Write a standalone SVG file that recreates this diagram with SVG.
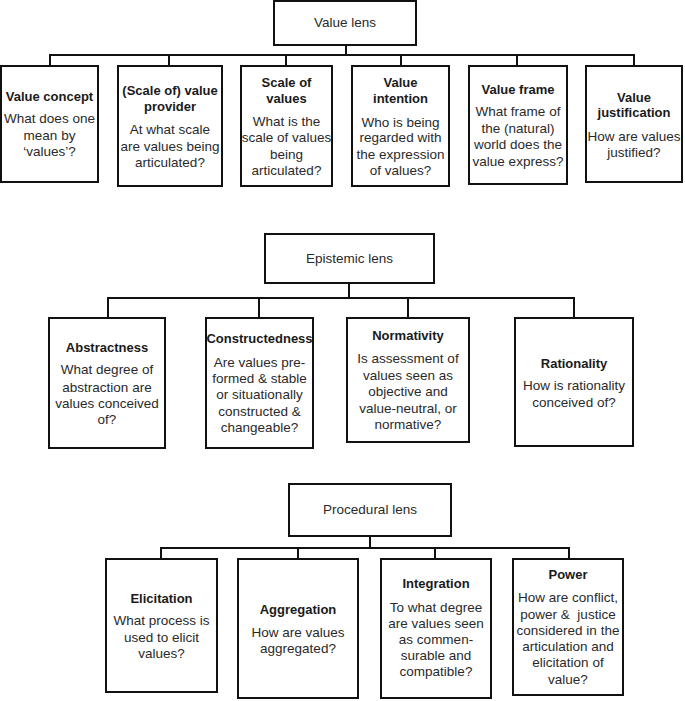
<svg xmlns="http://www.w3.org/2000/svg" width="685" height="701" viewBox="0 0 685 701">
<style>
rect{fill:#fff;stroke:#111;stroke-width:2}
.c path{fill:none;stroke:#111;stroke-width:2}
text{font-family:"Liberation Sans",Arial,sans-serif;fill:#2a2a2a;text-anchor:middle;font-size:13.5px}
.t{font-weight:bold;font-size:13px;fill:#1a1a1a}
</style>
<rect x="0" y="0" width="685" height="701" style="stroke:none"/>
<g class="c">
<path d="M346 45V55M50 66V55H634V66M169 55V66M286 55V66M401 55V66M517 55V66"/>
<path d="M349 283V298M108 318V298H574V318M259 298V318M408 298V318"/>
<path d="M370 536V548M161 559V548H569V559M298 548V559M435 548V559"/>
</g>
<g id="value-lens"><rect x="274" y="1" width="142" height="44"/><text x="345" y="27">Value lens</text></g>
<g id="value-concept"><rect x="1" y="66" width="97" height="116"/>
<text class="t" x="49.5" y="101">Value concept</text>
<text x="49.5" y="123">What does one</text><text x="49.5" y="140">mean by</text><text x="49.5" y="156">‘values’?</text></g>
<g id="value-provider"><rect x="118" y="66" width="104" height="120"/>
<text class="t" x="170" y="95">(Scale of) value</text><text class="t" x="170" y="111">provider</text>
<text x="170" y="134">At what scale</text><text x="170" y="151">are values being</text><text x="170" y="167">articulated?</text></g>
<g id="scale-of-values"><rect x="241" y="66" width="91" height="120"/>
<text class="t" x="286.5" y="87">Scale of</text><text class="t" x="286.5" y="103">values</text>
<text x="286.5" y="126">What is the</text><text x="286.5" y="142">scale of values</text><text x="286.5" y="159">being</text><text x="286.5" y="175">articulated?</text></g>
<g id="value-intention"><rect x="352" y="66" width="97" height="120"/>
<text class="t" x="400.5" y="87">Value</text><text class="t" x="400.5" y="103">intention</text>
<text x="400.5" y="127">Who is being</text><text x="400.5" y="142">regarded with</text><text x="400.5" y="159">the expression</text><text x="400.5" y="175">of values?</text></g>
<g id="value-frame"><rect x="469" y="66" width="98" height="118"/>
<text class="t" x="518" y="94">Value frame</text>
<text x="518" y="116">What frame of</text><text x="518" y="133">the (natural)</text><text x="518" y="149">world does the</text><text x="518" y="166">value express?</text></g>
<g id="value-justification"><rect x="586" y="66" width="96" height="116"/>
<text class="t" x="634" y="102">Value</text><text class="t" x="634" y="117">justification</text>
<text x="634" y="141">How are values</text><text x="634" y="157">justified?</text></g>

<g id="epistemic-lens"><rect x="265" y="234" width="169" height="49"/><text x="349.5" y="263">Epistemic lens</text></g>
<g id="abstractness"><rect x="49" y="318" width="116" height="130"/>
<text class="t" x="107" y="352">Abstractness</text>
<text x="107" y="374">What degree of</text><text x="107" y="392">abstraction are</text><text x="107" y="408">values conceived</text><text x="107" y="424">of?</text></g>
<g id="constructedness"><rect x="206" y="318" width="107" height="130"/>
<text class="t" x="259.5" y="343">Constructedness</text>
<text x="259.5" y="367">Are values pre-</text><text x="259.5" y="383">formed &amp; stable</text><text x="259.5" y="399">or situationally</text><text x="259.5" y="416">constructed &amp;</text><text x="259.5" y="432">changeable?</text></g>
<g id="normativity"><rect x="347" y="318" width="122" height="124"/>
<text class="t" x="408" y="340">Normativity</text>
<text x="408" y="363">Is assessment of</text><text x="408" y="380">values seen as</text><text x="408" y="396">objective and</text><text x="408" y="413">value-neutral, or</text><text x="408" y="429">normative?</text></g>
<g id="rationality"><rect x="515" y="318" width="118" height="128"/>
<text class="t" x="574" y="368">Rationality</text>
<text x="574" y="390">How is rationality</text><text x="574" y="407">conceived of?</text></g>

<g id="procedural-lens"><rect x="289" y="484" width="162" height="52"/><text x="370" y="514">Procedural lens</text></g>
<g id="elicitation"><rect x="106" y="559" width="111" height="133"/>
<text class="t" x="161.5" y="603">Elicitation</text>
<text x="161.5" y="625">What process is</text><text x="161.5" y="642">used to elicit</text><text x="161.5" y="658">values?</text></g>
<g id="aggregation"><rect x="238" y="559" width="120" height="139"/>
<text class="t" x="298" y="614">Aggregation</text>
<text x="298" y="637">How are values</text><text x="298" y="653">aggregated?</text></g>
<g id="integration"><rect x="381" y="559" width="110" height="139"/>
<text class="t" x="436" y="588">Integration</text>
<text x="436" y="612">To what degree</text><text x="436" y="628">are values seen</text><text x="436" y="644">as commen-</text><text x="436" y="660">surable and</text><text x="436" y="676">compatible?</text></g>
<g id="power"><rect x="513" y="559" width="110" height="136"/>
<text class="t" x="568" y="579">Power</text>
<text x="568" y="602">How are conflict,</text><text x="568" y="619" xml:space="preserve">power &amp;  justice</text><text x="568" y="635">considered in the</text><text x="568" y="651">articulation and</text><text x="568" y="667">elicitation of</text><text x="568" y="684">value?</text></g>
</svg>
